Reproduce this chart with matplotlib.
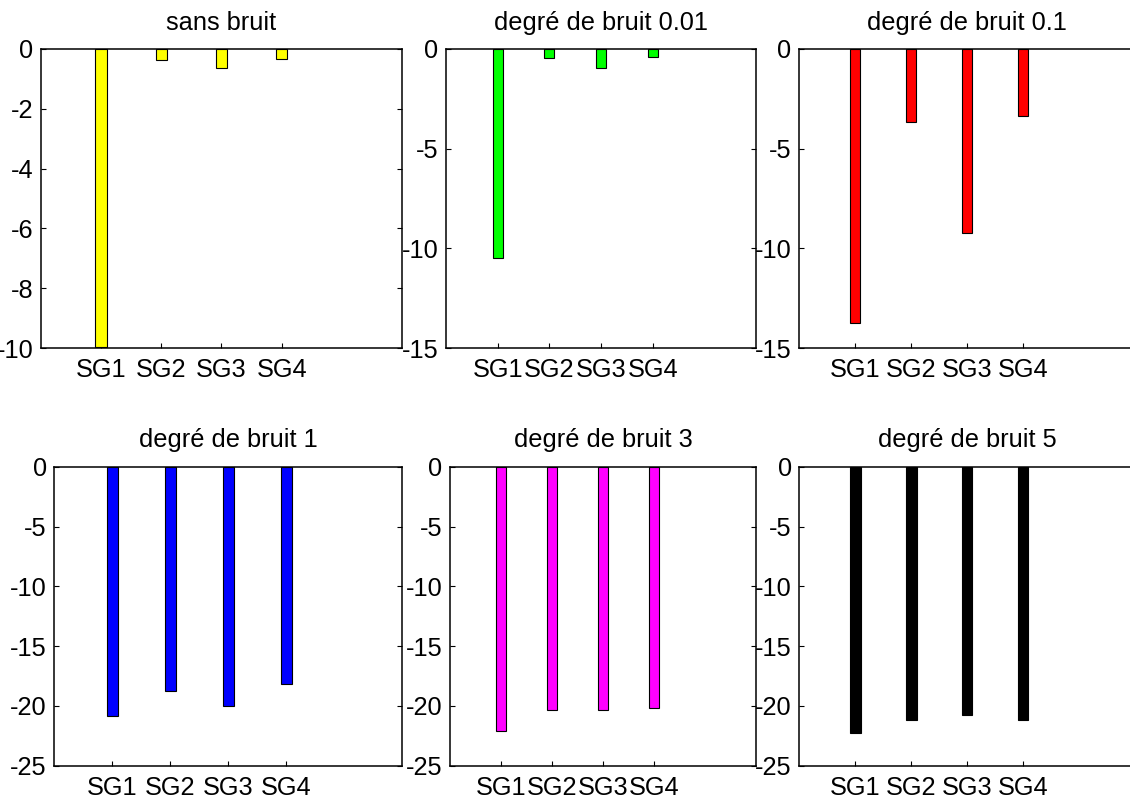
import matplotlib
matplotlib.use("Agg")
import matplotlib.pyplot as plt
import numpy as np

plt.rcParams['font.family'] = ['Liberation Sans', 'DejaVu Sans']
plt.rcParams['axes.unicode_minus'] = False

categories = ['SG1', 'SG2', 'SG3', 'SG4']

sans_bruit = [-9.95, -0.38, -0.65, -0.32]
bruit_001 = [-10.47, -0.47, -0.97, -0.38]
bruit_01 = [-13.76, -3.68, -9.25, -3.38]
bruit_1 = [-20.85, -18.78, -20.04, -18.14]
bruit_3 = [-22.1, -20.34, -20.34, -20.17]
bruit_5 = [-22.3, -21.18, -20.73, -21.18]

titles = ['sans bruit', 'degré de bruit 0.01', 'degré de bruit 0.1',
          'degré de bruit 1', 'degré de bruit 3', 'degré de bruit 5']
series = [sans_bruit, bruit_001, bruit_01, bruit_1, bruit_3, bruit_5]
colors = ['#FFFF00', '#00FF00', '#FF0000', '#0000FF', '#FF00FF', '#000000']
ylims = [(-10, 0), (-15, 0), (-15, 0), (-25, 0), (-25, 0), (-25, 0)]
ysteps = [2, 5, 5, 5, 5, 5]

W, H = 1130, 798
# axes boxes in pixels: left, right, top, bottom
boxes = [
    (41, 402, 49, 348), (446, 756, 49, 348), (799, 1135, 49, 348),
    (54.3, 402, 466.7, 765.7), (450, 756, 466.7, 765.7), (799.3, 1135, 466.7, 765.7),
]

FS = 18.3

fig = plt.figure(figsize=(W / 100, H / 100), dpi=100)
fig.patch.set_facecolor('white')

x = np.arange(1, len(categories) + 1)
for i in range(6):
    l, r, t, b = boxes[i]
    ax = fig.add_axes([l / W, 1 - b / H, (r - l) / W, (b - t) / H])
    ax.bar(x, series[i], width=0.19, color=colors[i], edgecolor='black',
           linewidth=0.8, zorder=2)
    ax.set_xlim(0, 6)
    lo, hi = ylims[i]
    ax.set_ylim(lo, hi)
    yt = np.arange(lo, hi + 0.1, ysteps[i])
    ax.set_yticks(yt)
    ax.set_yticklabels([f'{v:g}' for v in yt])
    ax.set_xticks(x)
    ax.set_xticklabels(categories)
    ax.tick_params(axis='both', direction='in', length=3.3, width=0.8,
                   labelsize=FS, colors='black')
    ax.tick_params(axis='y', right=True, pad=5.5)
    ax.tick_params(axis='x', pad=7.5)
    for s in ax.spines.values():
        s.set_linewidth(1.1)
    ax.set_title(titles[i], fontsize=FS, pad=14)

fig.savefig('out.png', dpi=100, facecolor='white')
